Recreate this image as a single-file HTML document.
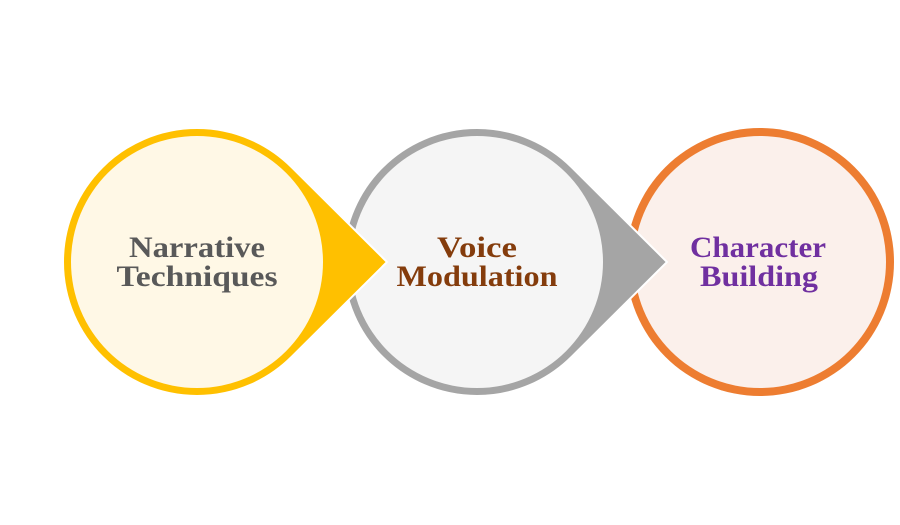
<!DOCTYPE html>
<html><head><style>html,body{margin:0;padding:0;background:#fff;}svg{display:block;}</style></head>
<body>
<svg width="900" height="525" viewBox="0 0 900 525" xmlns="http://www.w3.org/2000/svg">
<circle cx="760" cy="262" r="134" fill="#ed7d31"/>
<circle cx="760" cy="262" r="126" fill="#fbf0eb"/>
<path d="M667 262 L571.75 167.25 A134 134 0 1 0 571.75 356.75 Z" fill="#a5a5a5" stroke="#fff" stroke-width="2"/>
<circle cx="477" cy="262" r="126" fill="#f5f5f5"/>
<path d="M387 262 L291.75 167.25 A134 134 0 1 0 291.75 356.75 Z" fill="#ffc000" stroke="#fff" stroke-width="2"/>
<circle cx="197" cy="262" r="126" fill="#fff8e6"/>
<g font-family="'Liberation Serif', serif" font-weight="bold" font-size="30" text-anchor="middle" lengthAdjust="spacingAndGlyphs">
<text x="197" y="257" fill="#595959" textLength="136" lengthAdjust="spacingAndGlyphs">Narrative</text>
<text x="197" y="286" fill="#595959" textLength="161" lengthAdjust="spacingAndGlyphs">Techniques</text>
<text x="477" y="257" fill="#843c0c" textLength="80" lengthAdjust="spacingAndGlyphs">Voice</text>
<text x="477" y="286" fill="#843c0c" textLength="161" lengthAdjust="spacingAndGlyphs">Modulation</text>
<text x="758" y="257" fill="#7030a0" textLength="136" lengthAdjust="spacingAndGlyphs">Character</text>
<text x="759" y="286" fill="#7030a0" textLength="118" lengthAdjust="spacingAndGlyphs">Building</text>
</g>
</svg>
</body></html>
